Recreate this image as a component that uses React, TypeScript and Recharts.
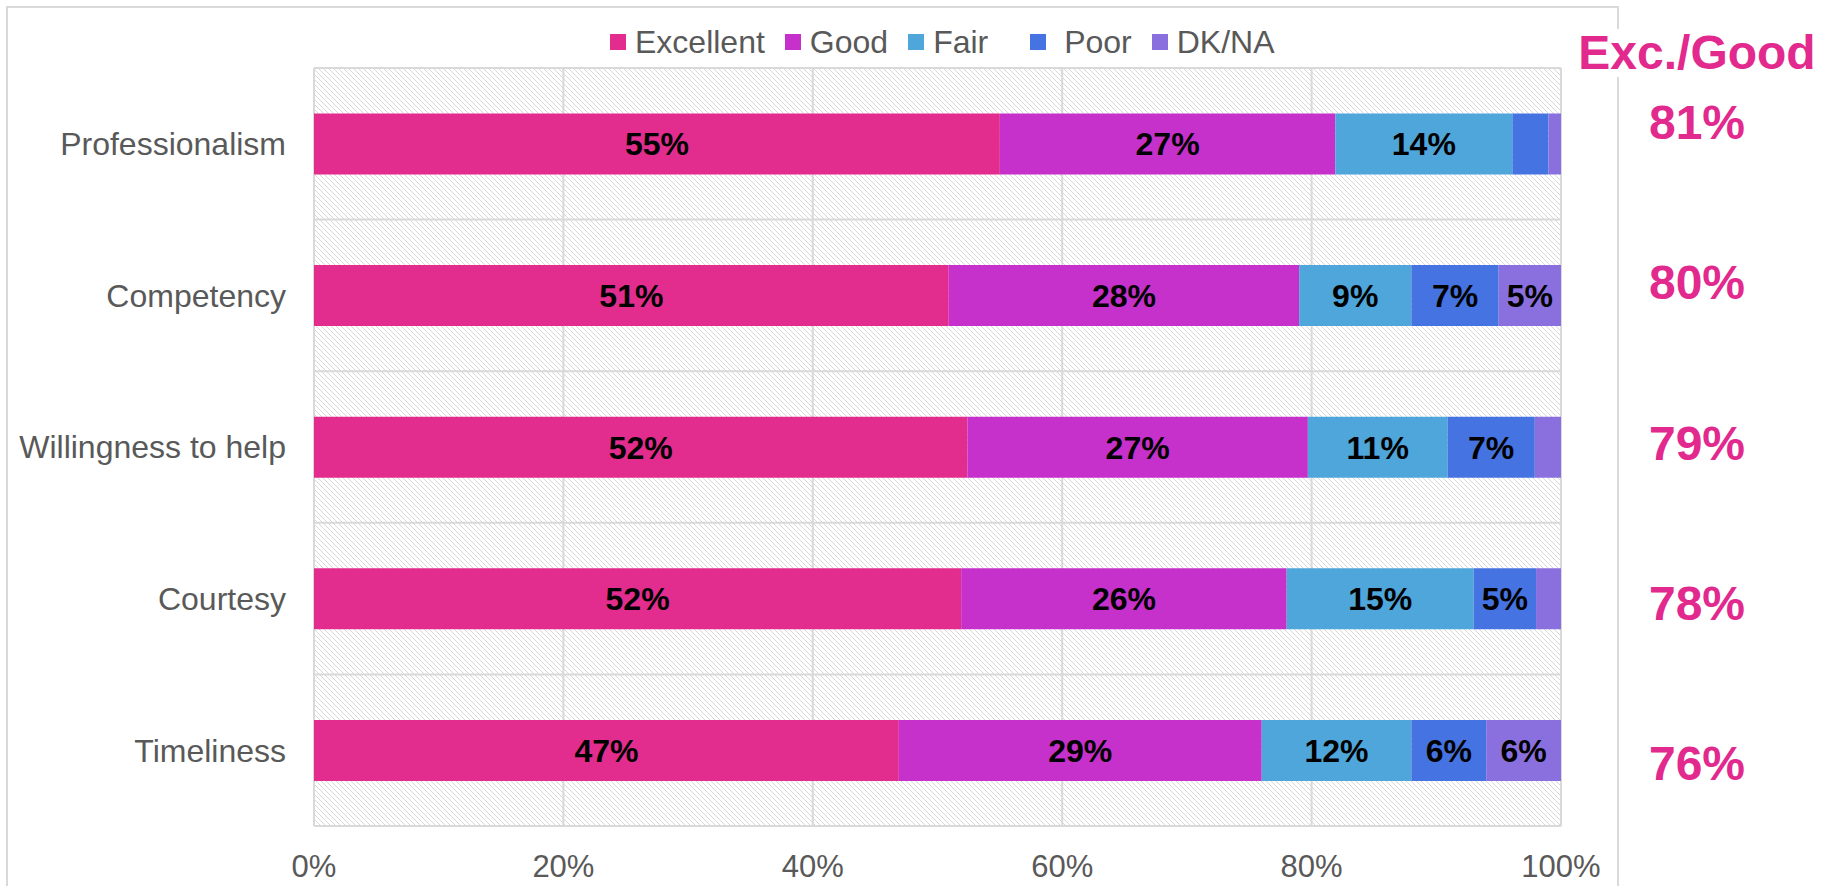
import React from "react";
import {
  BarChart,
  Bar,
  XAxis,
  YAxis,
  CartesianGrid,
  Legend,
  LabelList,
} from "recharts";

const categories = ["Professionalism", "Competency", "Willingness to help", "Courtesy", "Timeliness"];
const excellent = [55.0, 50.9, 52.4, 51.9, 46.9];
const good = [26.9, 28.1, 27.3, 26.1, 29.1];
const fair = [14.2, 9.0, 11.2, 15.0, 12.0];
const poor = [2.9, 7.0, 7.0, 5.0, 6.0];
const dkna = [1.0, 5.0, 2.1, 2.0, 6.0];
const excGood = [81, 80, 79, 78, 76];
const xTicks = [0, 20, 40, 60, 80, 100];

const seriesKeys = ["excellent", "good", "fair", "poor", "dkna"];
const seriesNames = ["Excellent", "Good", "Fair", " Poor", "DK/NA"];
const seriesColors = ["#E22D8E", "#C630CB", "#4EA6DB", "#4673E2", "#8A70DF"];

const data = categories.map((name, i) => ({
  name,
  excellent: excellent[i],
  good: good[i],
  fair: fair[i],
  poor: poor[i],
  dkna: dkna[i],
}));

const FONT = '"Liberation Sans", Arial, sans-serif';
const GREY_TEXT = "#595959";
const GRID = "#d9d9d9";
const PINK = "#E2298E";

function LegendContent() {
  return (
    <div style={{ display: "flex", alignItems: "center", fontFamily: FONT }}>
      {seriesNames.map((n, i) => (
        <div
          key={n}
          style={{
            display: "flex",
            alignItems: "center",
            marginLeft: i === 0 ? 0 : i === 3 ? 42 : 20,
          }}
        >
          <span
            style={{
              width: 16,
              height: 16,
              background: seriesColors[i],
              display: "inline-block",
              marginRight: 9,
            }}
          />
          <span style={{ fontSize: 32, color: GREY_TEXT, whiteSpace: "pre", lineHeight: "36px" }}>{n}</span>
        </div>
      ))}
    </div>
  );
}

const fmtLabel = (v: any) => (Number(v) >= 4.5 ? `${Math.round(Number(v))}%` : "");

export default function App() {
  return (
    <div
      style={{
        position: "absolute",
        left: 0,
        top: 0,
        width: 1832,
        height: 886,
        overflow: "hidden",
        background: "#fff",
        fontFamily: FONT,
      }}
    >
      <div
        style={{
          position: "absolute",
          left: 6,
          top: 6,
          width: 1613,
          height: 1000,
          border: `2px solid ${GRID}`,
          boxSizing: "border-box",
        }}
      />
      <div style={{ position: "absolute", left: 0, top: 0 }}>
        <BarChart
          width={1620}
          height={886}
          data={data}
          layout="vertical"
          barCategoryGap="30%"
          margin={{ top: 68, right: 59, bottom: 10, left: 0 }}
        >
          <defs>
            <pattern id="hatch" width="5" height="5" patternUnits="userSpaceOnUse">
              <rect width="5" height="5" fill="#ffffff" />
              <path d="M0,0 L5,5 M-1,4 L1,6 M4,-1 L6,1" stroke="#d8d8d8" strokeWidth="1" />
            </pattern>
          </defs>
          <CartesianGrid
            fill="url(#hatch)"
            stroke={GRID}
            strokeWidth={2}
            horizontalCoordinatesGenerator={({ offset }: any) =>
              categories.concat([""]).map((_, i) => offset.top + (i * offset.height) / categories.length)
            }
          />
          <XAxis
            type="number"
            domain={[0, 100]}
            ticks={xTicks}
            tickFormatter={(v) => `${v}%`}
            axisLine={false}
            tickLine={false}
            tickMargin={23}
            height={50}
            tick={{ fontSize: 31, fill: GREY_TEXT, fontFamily: FONT }}
          />
          <YAxis
            type="category"
            dataKey="name"
            width={314}
            axisLine={false}
            tickLine={false}
            tickMargin={22}
            tick={{ fontSize: 32, fill: GREY_TEXT, fontFamily: FONT }}
          />
          <Legend
            layout="horizontal"
            verticalAlign="middle"
            align="center"
            wrapperStyle={{ top: 24, left: 610, width: 800 }}
            content={<LegendContent />}
          />
          {seriesKeys.map((k, i) => (
            <Bar
              key={k}
              dataKey={k}
              name={seriesNames[i]}
              stackId="a"
              fill={seriesColors[i]}
              isAnimationActive={false}
            >
              <LabelList
                dataKey={k}
                position="center"
                formatter={fmtLabel}
                fill="#000"
                fontSize={32}
                fontWeight="bold"
                fontFamily={FONT}
              />
            </Bar>
          ))}
        </BarChart>
      </div>
      <div
        style={{
          position: "absolute",
          left: 1576,
          top: 29,
          width: 242,
          textAlign: "center",
          fontSize: 48,
          lineHeight: "48px",
          fontWeight: "bold",
          color: PINK,
          background: "#fff",
        }}
      >
        Exc./Good
      </div>
      {excGood.map((v, i) => (
        <div
          key={i}
          style={{
            position: "absolute",
            left: 1576,
            top: 99 + i * 160.25,
            width: 242,
            textAlign: "center",
            fontSize: 48,
            lineHeight: "48px",
            fontWeight: "bold",
            color: PINK,
          }}
        >
          {v}%
        </div>
      ))}
    </div>
  );
}
